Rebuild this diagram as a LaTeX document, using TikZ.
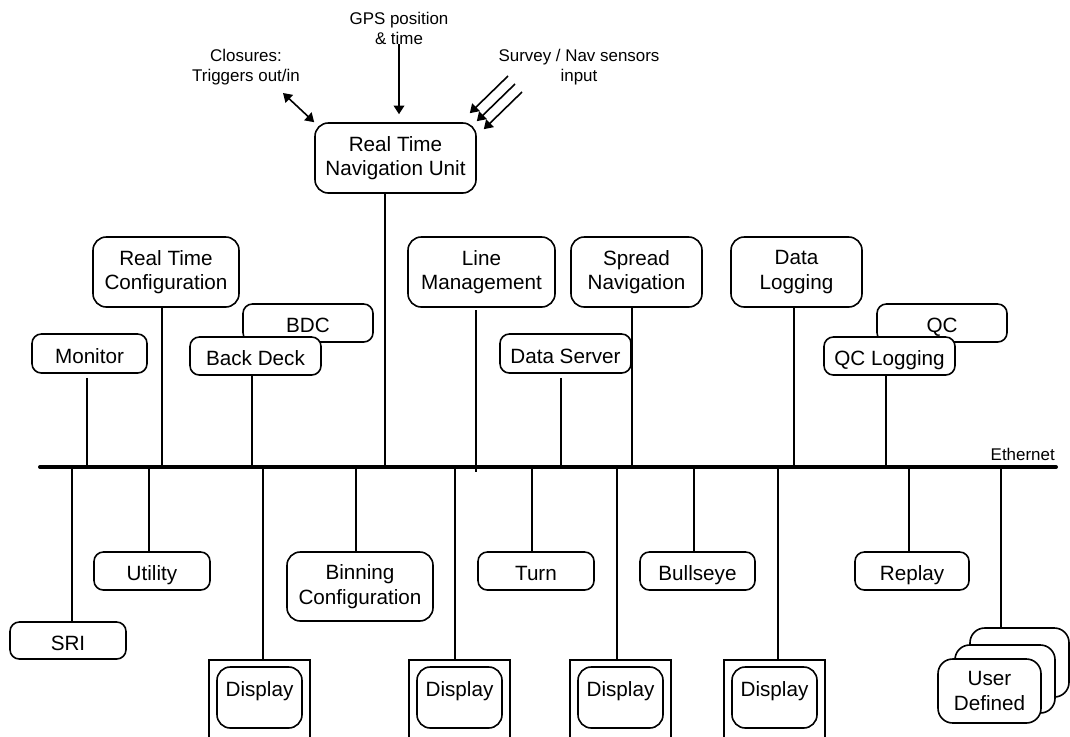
\documentclass[tikz,border=0pt]{standalone}
\usepackage{fontspec}
\setmainfont{Liberation Sans}
\usetikzlibrary{arrows.meta,calc}
\newcommand\mainf{\fontsize{15.5pt}{18.5pt}\selectfont}
\newcommand\smallf{\fontsize{12.7pt}{15pt}\selectfont}
\tikzset{
  box/.style={draw, line width=1.2pt, rounded corners=7pt, fill=white, align=center, inner sep=0pt, font=\mainf},
  onebox/.style={box, text height=14.9pt, text depth=0pt},
  bigbox/.style={box, rounded corners=10pt},
  userbox/.style={box, rounded corners=11pt},
  dispbox/.style={box, rounded corners=10pt, text height=11.2pt, text depth=12.5pt},
  frame/.style={draw, line width=1.2pt, fill=white, inner sep=0pt},
  conn/.style={line width=1.2pt},
  arr/.style={line width=1.2pt, -{Triangle[length=6.5pt,width=8pt]}},
  darr/.style={line width=1.2pt, {Triangle[length=6.5pt,width=8pt]}-{Triangle[length=6.5pt,width=8pt]}},
  ether/.style={line width=3pt, line cap=round},
  lbl/.style={align=center, inner sep=0pt, font=\smallf}
}
\newcommand\bx[7][onebox]{\node[box, minimum width={((#5)-(#3))*0.75pt}, minimum height={((#6)-(#4))*0.75pt}, #1] (#2) at ({((#3)+(#5))/2},{((#4)+(#6))/2}) {#7};}
\begin{document}
\begin{tikzpicture}[x=0.75pt, y=-0.75pt]
\useasboundingbox (0,0) rectangle (1070,736);

% ---- Ethernet taps
\coordinate (eL) at (40,467);
\coordinate (eR) at (1056,467);
\foreach \n/\x in {tRTNU/385, tRTC/162, tMON/87, tBD/252, tDS/561, tSN/632, tDL/794, tQCL/886,
   tSRI/72, tUTIL/149, tD1/263, tBIN/356, tD2/455, tTURN/532, tD3/617, tBULL/694, tD4/778, tREP/909, tUSER/1001}
  {\coordinate (\n) at (\x,467);}
\coordinate (tLM) at (476,472);

% ---- top unit
\bx[bigbox]{rtnu}{315}{123}{476}{193}{Real Time\\Navigation Unit}
\node[lbl] (gps) at (399,28) {GPS position\\\& time};
\node[lbl] (clos) at (246,67) {Closures:\\Triggers out/in};
\node[lbl] (surv) at (579,67) {Survey / Nav sensors\\input};
\draw[arr] (gps.south -| 399,0) -- ([yshift=6pt]rtnu.north -| 399,0);
\coordinate (c1) at (283,93);
\draw[darr] (c1) -- (rtnu.north west);
\coordinate (s1) at (508,76);
\coordinate (s2) at (515,84);
\coordinate (s3) at (522,92);
\draw[arr] (s1) -- ($(rtnu.north east)+(-7,-9)$);
\draw[arr] (s2) -- ($(rtnu.north east)+(0,-1)$);
\draw[arr] (s3) -- ($(rtnu.north east)+(7,7)$);

% ---- upper row
\bx[bigbox]{rtc}{93}{237}{239}{307}{Real Time\\Configuration}
\bx{mon}{32}{334}{147}{373}{Monitor}
\bx{bdc}{243}{304}{373}{342}{BDC}
\bx{bd}{190}{337}{321}{375}{Back Deck}
\bx[bigbox]{lm}{408}{237}{555}{307}{Line\\Management}
\bx{ds}{500}{334}{631}{373}{Data Server}
\bx[bigbox]{sn}{571}{237}{702}{307}{Spread\\Navigation}
\bx[bigbox]{dl}{731}{237}{862}{307}{Data\\Logging}
\bx{qc}{877}{304}{1007}{342}{QC}
\bx{qcl}{824}{337}{955}{375}{QC Logging}

\draw[conn] (rtnu.south -| tRTNU) -- (tRTNU);
\draw[conn] (rtc.south -| tRTC) -- (tRTC);
\draw[conn] ([yshift=-3pt]mon.south -| tMON) -- (tMON);
\draw[conn] (bd.south -| tBD) -- (tBD);
\draw[conn] ([yshift=-2pt]lm.south -| tLM) -- (tLM);
\draw[conn] ([yshift=-3pt]ds.south -| tDS) -- (tDS);
\draw[conn] (sn.south -| tSN) -- (tSN);
\draw[conn] (dl.south -| tDL) -- (tDL);
\draw[conn] (qcl.south -| tQCL) -- (tQCL);

% ---- lower row
\bx{sri}{10}{622}{126}{659}{SRI}
\bx{util}{94}{552}{210}{590}{Utility}
\bx[bigbox]{bin}{287}{552}{433}{621}{Binning\\Configuration}
\bx{turn}{478}{552}{594}{590}{Turn}
\bx{bull}{640}{552}{755}{590}{Bullseye}
\bx{rep}{855}{552}{969}{590}{Replay}

% displays
\foreach \i/\l in {1/209, 2/409, 3/570, 4/724} {
  \node[frame, minimum width=101*0.75pt, minimum height=95*0.75pt, anchor=north] (do\i) at ({\l+50.5},659) {};
  \bx[dispbox]{di\i}{\l+8}{667}{\l+93}{728}{Display}
}

% user defined stack
\bx[userbox]{u3}{970}{628}{1069}{697}{}
\bx[userbox]{u2}{955}{645}{1055}{713}{}
\bx[userbox]{u1}{938}{659}{1041}{723}{User\\Defined}

\draw[conn] (tSRI) -- (sri.north -| tSRI);
\draw[conn] (tUTIL) -- (util.north -| tUTIL);
\draw[conn] (tBIN) -- (bin.north -| tBIN);
\draw[conn] (tTURN) -- (turn.north -| tTURN);
\draw[conn] (tBULL) -- (bull.north -| tBULL);
\draw[conn] (tREP) -- (rep.north -| tREP);
\draw[conn] (tD1) -- (do1.north -| tD1);
\draw[conn] (tD2) -- (do2.north -| tD2);
\draw[conn] (tD3) -- (do3.north -| tD3);
\draw[conn] (tD4) -- (do4.north -| tD4);
\draw[conn] (tUSER) -- (u3.north -| tUSER);

% ---- ethernet
\draw[ether] (eL) -- (eR);
\node[lbl, anchor=base east] (eth) at (1055,460) {Ethernet};
\end{tikzpicture}
\end{document}
